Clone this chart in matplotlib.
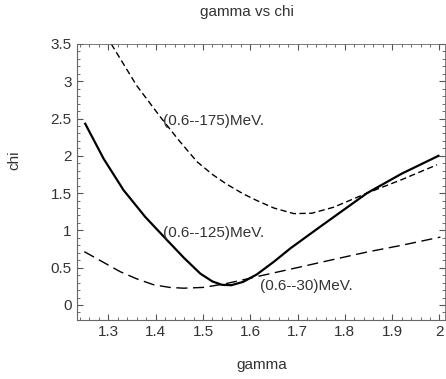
import matplotlib.pyplot as plt
from matplotlib.ticker import MultipleLocator

# values
gamma_125 = [1.251, 1.290, 1.332, 1.378, 1.424, 1.460, 1.4945, 1.520, 1.540, 1.560, 1.585, 1.614, 1.650, 1.685, 1.748, 1.847, 1.920, 1.998]
chi_125 = [2.43, 1.96, 1.54, 1.18, 0.87, 0.63, 0.42, 0.315, 0.27, 0.265, 0.31, 0.41, 0.58, 0.76, 1.05, 1.50, 1.76, 2.00]

gamma_175 = [1.306, 1.360, 1.410, 1.450, 1.4875, 1.520, 1.550, 1.585, 1.614, 1.650, 1.692, 1.730, 1.776, 1.847, 1.920, 1.995]
chi_175 = [3.50, 2.94, 2.52, 2.20, 1.92, 1.75, 1.62, 1.49, 1.40, 1.30, 1.225, 1.23, 1.31, 1.50, 1.68, 1.88]

gamma_30 = [1.249, 1.290, 1.325, 1.360, 1.396, 1.430, 1.459, 1.500, 1.544, 1.580, 1.614, 1.706, 1.776, 1.847, 1.920, 2.002]
chi_30 = [0.715, 0.57, 0.446, 0.35, 0.27, 0.235, 0.225, 0.235, 0.28, 0.33, 0.38, 0.51, 0.61, 0.71, 0.80, 0.91]

labels = ["(0.6--175)MeV.", "(0.6--125)MeV.", "(0.6--30)MeV."]
label_pos = [(1.416, 2.47), (1.416, 0.97), (1.62, 0.26)]

grey = "#333333"
plt.rcParams['font.family'] = ['Liberation Sans', 'DejaVu Sans']

fig = plt.figure(figsize=(4.46, 3.79), dpi=100)
ax = fig.add_axes([0.172, 0.156, 0.826, 0.728])

ax.plot(gamma_125, chi_125, color="black", lw=1.6, solid_joinstyle="round")
ax.plot(gamma_175, chi_175, color="black", lw=1.0, dashes=(4.5, 2.5))
ax.plot(gamma_30, chi_30, color="black", lw=1.0, dashes=(8, 4))

for txt, (x, y) in zip(labels, label_pos):
    ax.text(x, y, txt, fontsize=11, color=grey, va="center", ha="left")

ax.set_xlim(1.233, 2.012)
ax.set_ylim(-0.2, 3.5)
ax.xaxis.set_minor_locator(MultipleLocator(0.02))
ax.yaxis.set_minor_locator(MultipleLocator(0.1))
ax.set_xticks([1.3, 1.4, 1.5, 1.6, 1.7, 1.8, 1.9, 2.0])
ax.set_xticklabels(["1.3", "1.4", "1.5", "1.6", "1.7", "1.8", "1.9", "2"])
ax.set_yticks([0, 0.5, 1, 1.5, 2, 2.5, 3, 3.5])
ax.set_yticklabels(["0", "0.5", "1", "1.5", "2", "2.5", "3", "3.5"])

ax.tick_params(which="both", direction="in", top=True, right=True,
               colors="#555555", labelcolor=grey, labelsize=11)
ax.tick_params(which="major", length=4, width=0.8)
ax.tick_params(which="minor", length=2, width=0.6)
for s in ax.spines.values():
    s.set_color("#666666")
    s.set_linewidth(0.8)
ax.spines["top"].set_linewidth(0.6)
ax.spines["right"].set_linewidth(0.6)

fig.text(247 / 446, 1 - 12 / 379, "gamma vs chi", fontsize=11, color=grey, ha="center", va="center")
fig.text(262 / 446, 1 - 365 / 379, "gamma", fontsize=11, color=grey, ha="center", va="center")
fig.text(14 / 446, 1 - 160 / 379, "chi", fontsize=11, color=grey, ha="center", va="center", rotation=90)

fig.savefig("out.png", dpi=100)
